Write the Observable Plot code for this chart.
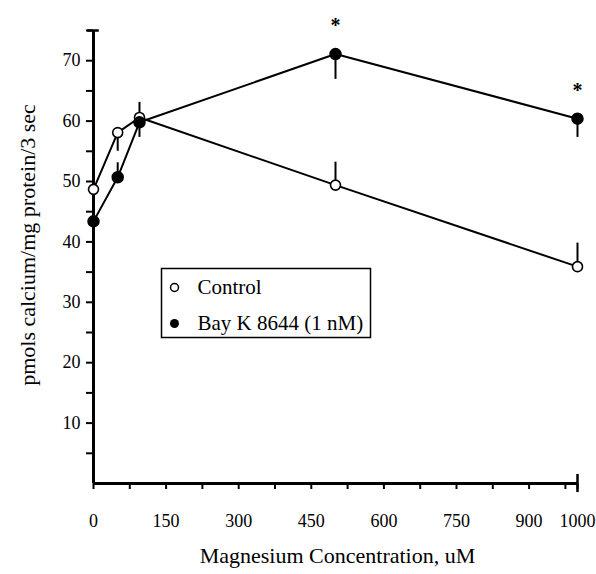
<!DOCTYPE html>
<html>
<head>
<meta charset="utf-8">
<script src="https://cdn.jsdelivr.net/npm/d3@7"></script>
<script src="https://cdn.jsdelivr.net/npm/@observablehq/plot@0.6"></script>
<style>
  html, body { margin: 0; padding: 0; background: white; }
  #chart svg g[aria-label^="x-axis"] line, #chart svg g[aria-label^="x-axis"] path,
  #chart svg g[aria-label^="y-axis"] line, #chart svg g[aria-label^="y-axis"] path { stroke-width: 2px; }
</style>
</head>
<body>
<div id="chart"></div>
<script>
// ---- data ----
const concentrations = [0, 50, 95, 500, 1000];          // Magnesium, uM
const controlValues  = [48.7, 58.1, 60.6, 49.4, 35.9];   // pmols calcium/mg protein/3 sec
const bayValues      = [43.4, 50.7, 59.8, 71.1, 60.4];
const controlSem     = [0, -3.1, 2.5, 3.8, 3.9];         // one-sided error bars (signed)
const baySem         = [0, 2.4, -2.5, -4.2, -3.1];
const significantAt  = [500, 1000];                       // asterisks on Bay K series
const seriesNames    = ["Control", "Bay K 8644 (1 nM)"];
const xTickValues    = [0, 75, 150, 225, 300, 375, 450, 525, 600, 675, 750, 825, 900, 975, 1000];
const xTickLabels    = [0, 150, 300, 450, 600, 750, 900, 1000];
const yTickValues    = [5, 10, 15, 20, 25, 30, 35, 40, 45, 50, 55, 60, 65, 70, 75];
const yTickLabels    = [10, 20, 30, 40, 50, 60, 70];
const xTitle = "Magnesium Concentration, uM";
const yTitle = "pmols calcium/mg protein/3 sec";

const controlData = concentrations.map((x, i) => ({x, y: controlValues[i], sem: controlSem[i]}));
const bayData = concentrations.map((x, i) => ({x, y: bayValues[i], sem: baySem[i]}));
const xLabelSet = new Set(xTickLabels);
const yLabelSet = new Set(yTickLabels);

const serif = "'Liberation Serif', 'Times New Roman', serif";

const chart = Plot.plot({
  width: 596,
  height: 574,
  marginLeft: 93,
  marginRight: 19,
  marginTop: 30,
  marginBottom: 91,
  style: {fontFamily: serif, fontSize: "18px", color: "black", background: "white"},
  x: {domain: [0, 1000], ticks: xTickValues, tickFormat: d => xLabelSet.has(d) ? String(d) : "",
      tickSize: 6, tickPadding: 25, label: null},
  y: {domain: [0, 75], ticks: yTickValues, tickFormat: d => yLabelSet.has(d) ? String(d) : "",
      tickSize: 7, tickPadding: 6, label: null},
  marks: [
    // axis lines and end caps
    Plot.ruleX([0], {strokeWidth: 3}),
    Plot.ruleY([0], {strokeWidth: 3}),
    Plot.ruleY([75], {x1: -12, x2: 12, strokeWidth: 2.5}),
    Plot.ruleX([1000], {y1: -1.5, y2: 1.5, strokeWidth: 2.5}),
    // series lines
    Plot.line(controlData, {x: "x", y: "y", stroke: "black", strokeWidth: 2}),
    Plot.line(bayData, {x: "x", y: "y", stroke: "black", strokeWidth: 2}),
    // one-sided error bars
    Plot.ruleX(controlData.filter(d => d.sem !== 0), {x: "x", y1: "y", y2: d => d.y + d.sem, strokeWidth: 2}),
    Plot.ruleX(bayData.filter(d => d.sem !== 0), {x: "x", y1: "y", y2: d => d.y + d.sem, strokeWidth: 2}),
    // points
    Plot.dot(controlData, {x: "x", y: "y", r: 5, fill: "white", stroke: "black", strokeWidth: 1.6}),
    Plot.dot(bayData, {x: "x", y: "y", r: 5.5, fill: "black", stroke: "black"}),
    // significance asterisks
    Plot.text(bayData.filter(d => significantAt.includes(d.x)), {x: "x", y: "y", text: () => "*",
      dy: -28, fontSize: 20, fontWeight: "bold"}),
    // legend
    Plot.frame({insetLeft: 68, insetRight: 207, insetTop: 238, insetBottom: 146, strokeWidth: 1.5}),
    Plot.dot([seriesNames[0]], {frameAnchor: "top-left", dx: 81, dy: 257, r: 4, fill: "white", stroke: "black", strokeWidth: 1.5}),
    Plot.dot([seriesNames[1]], {frameAnchor: "top-left", dx: 81, dy: 293, r: 4.5, fill: "black"}),
    Plot.text([seriesNames[0]], {frameAnchor: "top-left", dx: 104, dy: 257, text: d => d,
      textAnchor: "start", lineAnchor: "middle", fontSize: 21}),
    Plot.text([seriesNames[1]], {frameAnchor: "top-left", dx: 104, dy: 293, text: d => d,
      textAnchor: "start", lineAnchor: "middle", fontSize: 21}),
    // axis titles
    Plot.text([xTitle], {frameAnchor: "bottom", dy: 64, dx: 2, lineAnchor: "top", textAnchor: "middle", text: d => d, fontSize: 22}),
    Plot.text([yTitle], {frameAnchor: "left", rotate: -90, dx: -66, dy: -12, textAnchor: "middle",
      lineAnchor: "middle", text: d => d, fontSize: 22})
  ]
});
document.getElementById("chart").appendChild(chart);
</script>
</body>
</html>
